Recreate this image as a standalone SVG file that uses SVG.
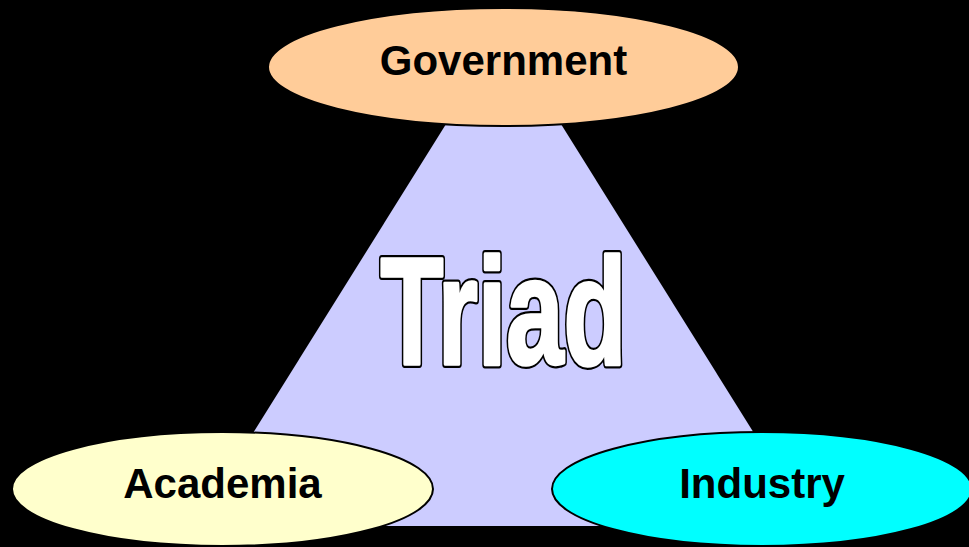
<svg xmlns="http://www.w3.org/2000/svg" width="969" height="547" viewBox="0 0 969 547">
<style>
.lbl{font-family:"Liberation Sans",Arial,sans-serif;font-weight:bold;font-size:42px;fill:#000;text-anchor:middle}
.node{stroke:#000;stroke-width:2}
.triad{font-family:"Liberation Sans",Arial,sans-serif;font-weight:bold;font-size:152px;text-anchor:middle;stroke-linejoin:round}
</style>
<rect width="969" height="547" fill="#000"/>
<g id="triangle">
<polygon points="503.5,32 812,526 195,526" fill="#ccccff"/>
<text class="triad" x="503.5" y="364" fill="#000" stroke="#000" stroke-width="8" textLength="246" lengthAdjust="spacingAndGlyphs">Triad</text>
<text class="triad" x="503.5" y="364" fill="#fff" stroke="#fff" stroke-width="3.5" textLength="246" lengthAdjust="spacingAndGlyphs">Triad</text>
</g>
<g id="connectors"></g>
<g id="government">
<ellipse class="node" cx="503.5" cy="67" rx="235.5" ry="59" fill="#ffcc99"/>
<text class="lbl" x="503.5" y="75">Government</text>
</g>
<g id="academia">
<ellipse class="node" cx="222.5" cy="489" rx="210.5" ry="57" fill="#ffffcc"/>
<text class="lbl" x="222.5" y="498">Academia</text>
</g>
<g id="industry">
<ellipse class="node" cx="762" cy="489" rx="210" ry="57" fill="#00ffff"/>
<text class="lbl" x="762" y="498">Industry</text>
</g>
</svg>
